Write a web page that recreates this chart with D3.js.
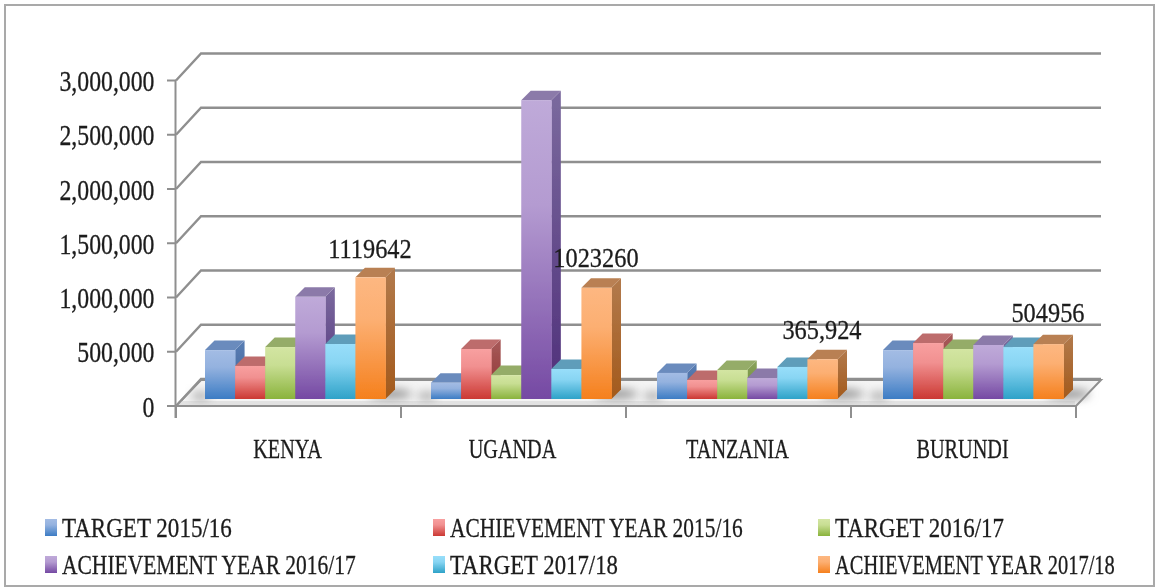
<!DOCTYPE html>
<html><head><meta charset="utf-8">
<script src="https://cdnjs.cloudflare.com/ajax/libs/d3/7.8.5/d3.min.js"></script>
<style>html,body{margin:0;background:#fff}svg{display:block}text{font-family:"Liberation Serif",serif;fill:#1c1c1c;stroke:#1c1c1c;stroke-width:.3}</style>
</head><body><svg id="c" width="1159" height="588"></svg>
<script>
const categories=["KENYA","UGANDA","TANZANIA","BURUNDI"];
const seriesNames=["TARGET 2015/16","ACHIEVEMENT YEAR 2015/16","TARGET 2016/17","ACHIEVEMENT YEAR 2016/17","TARGET 2017/18","ACHIEVEMENT YEAR 2017/18"];
const target1516=[450000,150000,240000,450000];
const achieve1516=[304000,460000,175000,515000];
const target1617=[478000,220000,267000,460000];
const achieve1617=[940000,2750000,193000,497000];
const target1718=[506000,276000,295000,478000];
const achieve1718=[1119642,1023260,365924,504956];
const series=[target1516,achieve1516,target1617,achieve1617,target1718,achieve1718];
const dataLabels=["1119642","1023260","365,924","504956"];
const yTicks=[0,500000,1000000,1500000,2000000,2500000,3000000];
const colors=[
 {a:"#a3bce4",b:"#3c7cc4",top:"#6b8bbd",s1:"#5a7fb5",s2:"#3d5f94"},
 {a:"#f8a0a0",b:"#cb3833",top:"#bd6c6c",s1:"#a85a5a",s2:"#8c3230"},
 {a:"#d3e5a2",b:"#8ab33c",top:"#95ac68",s1:"#8aa35c",s2:"#6a8a30"},
 {a:"#bfaad9",b:"#7549a3",top:"#8b7aa9",s1:"#7b6a9e",s2:"#4f2f7a"},
 {a:"#98defa",b:"#2ea2c8",top:"#5f9dba",s1:"#5590aa",s2:"#257f9c"},
 {a:"#fdb781",b:"#f5801d",top:"#b98052",s1:"#b27a4c",s2:"#a35a1c"}];

const svg=d3.select("#c");
const defs=svg.append("defs");
const soft=defs.append("filter").attr("id","soft").attr("x","-5%").attr("y","-5%").attr("width","110%").attr("height","110%");
soft.append("feGaussianBlur").attr("stdDeviation",0.7);
const shad=defs.append("filter").attr("id","shad").attr("x","-30%").attr("y","-100%").attr("width","160%").attr("height","300%");
shad.append("feGaussianBlur").attr("stdDeviation",5);
colors.forEach((c,i)=>{
 const g=defs.append("linearGradient").attr("id","f"+i).attr("x1",0).attr("y1",0).attr("x2",0).attr("y2",1);
 g.append("stop").attr("offset","0%").attr("stop-color",c.a);
 g.append("stop").attr("offset","35%").attr("stop-color",d3.interpolateRgb(c.a,c.b)(.15));
 g.append("stop").attr("offset","100%").attr("stop-color",c.b);
 const h=defs.append("linearGradient").attr("id","s"+i).attr("x1",0).attr("y1",0).attr("x2",0).attr("y2",1);
 h.append("stop").attr("offset","0%").attr("stop-color",c.s1);
 h.append("stop").attr("offset","100%").attr("stop-color",c.s2);
});
const root=svg.append("g").attr("filter","url(#soft)");
root.append("rect").attr("x",5).attr("y",5).attr("width",1149).attr("height",581).attr("fill","#fff").attr("stroke","#a9a9a9").attr("stroke-width",2);

const y=d3.scaleLinear().domain([0,3000000]).range([406,80.5]);
const barY=d3.scaleLinear().domain([0,3000000]).range([399,73]);
const xAxis=d3.scaleBand().domain(categories).range([176,1076]);
const xGroup=d3.scaleBand().domain(categories).range([205,1109]);
const xInner=d3.scaleBand().domain(d3.range(6)).range([0,180.5]);
const wallX=25, wallY=27, depth=9.5, gray="#8f8f8f";
const narrow=(sel,k)=>sel.attr("transform",function(){return `translate(${+this.dataset.x},${+this.dataset.y}) scale(${k},1)`});

// floor
root.append("path").attr("d",`M176,${y(0)}L${1076},${y(0)}L${1076+wallX},${y(0)-wallY+1}L${176+wallX},${y(0)-wallY+1}Z`)
 .attr("fill","#f4f4f4").attr("stroke",gray).attr("stroke-width",2);
root.append("rect").attr("x",178).attr("y",401).attr("width",897).attr("height",4).attr("fill","#e2e2e2");
// gridlines on side and back wall
root.selectAll(".grid").data(yTicks).join("path").attr("class","grid").attr("fill","none").attr("stroke",gray).attr("stroke-width",2.4)
 .attr("d",d=>`M176,${y(d)}L${176+wallX},${y(d)-wallY}L${1076+wallX},${y(d)-wallY}`);
// y axis
root.append("line").attr("x1",175.5).attr("x2",175.5).attr("y1",y(3000000)).attr("y2",418).attr("stroke",gray).attr("stroke-width",2);
root.selectAll(".yt").data(yTicks).join("line").attr("x1",167).attr("x2",176).attr("y1",d=>y(d)).attr("y2",d=>y(d)).attr("stroke",gray).attr("stroke-width",2);
root.selectAll(".ylab").data(yTicks).join("text")
 .text(d=>d3.format(",")(d)).attr("text-anchor","end").attr("font-size",29)
 .attr("data-x",154.5).attr("data-y",d=>y(d)+10.5).call(narrow,0.82);
// x ticks
const tickXs=categories.map(c=>xAxis(c)).concat([xAxis.range()[1]]);
root.selectAll(".xt").data(tickXs).join("line").attr("x1",d=>d).attr("x2",d=>d).attr("y1",406).attr("y2",418).attr("stroke",gray).attr("stroke-width",2);
root.selectAll(".xlab").data(categories).join("text").text(d=>d).attr("text-anchor","middle").attr("font-size",27)
 .attr("data-x",d=>xAxis(d)+xAxis.bandwidth()/2-1).attr("data-y",458).call(narrow,0.75);

// bars
categories.forEach((cat,ci)=>{
 const g=root.append("g");
 const x0=xGroup(cat);
 g.append("ellipse").attr("cx",x0+185).attr("cy",394).attr("rx",22).attr("ry",5).attr("fill","#9a9a9a").attr("filter","url(#shad)");
 g.append("ellipse").attr("cx",x0-4).attr("cy",396).attr("rx",10).attr("ry",4).attr("fill","#aaa").attr("filter","url(#shad)");
 series.forEach((vals,si)=>{
  const v=vals[ci], x=x0+xInner(si), w=xInner.bandwidth(), t=barY(v), b=barY(0);
  g.append("path").attr("d",`M${x+w},${t}L${x+w+depth},${t-depth}L${x+w+depth},${b-depth}L${x+w},${b}Z`).attr("fill",`url(#s${si})`);
  g.append("path").attr("d",`M${x},${t}L${x+depth},${t-depth}L${x+w+depth},${t-depth}L${x+w},${t}Z`).attr("fill",colors[si].top);
  g.append("rect").attr("x",x).attr("y",t).attr("width",w+.4).attr("height",b-t).attr("fill",`url(#f${si})`);
 });
});
// data labels
const labelOffset=[19,21,20,22];
root.selectAll(".dl").data(categories).join("text").text((d,i)=>dataLabels[i]).attr("text-anchor","middle").attr("font-size",28)
 .attr("data-x",d=>xGroup(d)+xInner(5)+xInner.bandwidth()/2-.5)
 .attr("data-y",(d,i)=>barY(achieve1718[i])-labelOffset[i]).call(narrow,0.87);

// legend
const legendX=[62,450,835], legendY=[537,574], legendLen=[170,293,169,294,168,280];
seriesNames.forEach((n,i)=>{
 const lx=legendX[i%3], ly=legendY[Math.floor(i/3)];
 root.append("rect").attr("x",lx-17).attr("y",ly-18).attr("width",12).attr("height",17).attr("fill",`url(#f${i})`);
 const t=root.append("text").text(n).attr("font-size",28).attr("data-x",lx).attr("data-y",ly);
 t.call(narrow,legendLen[i]/t.node().getComputedTextLength());
});
</script></body></html>
